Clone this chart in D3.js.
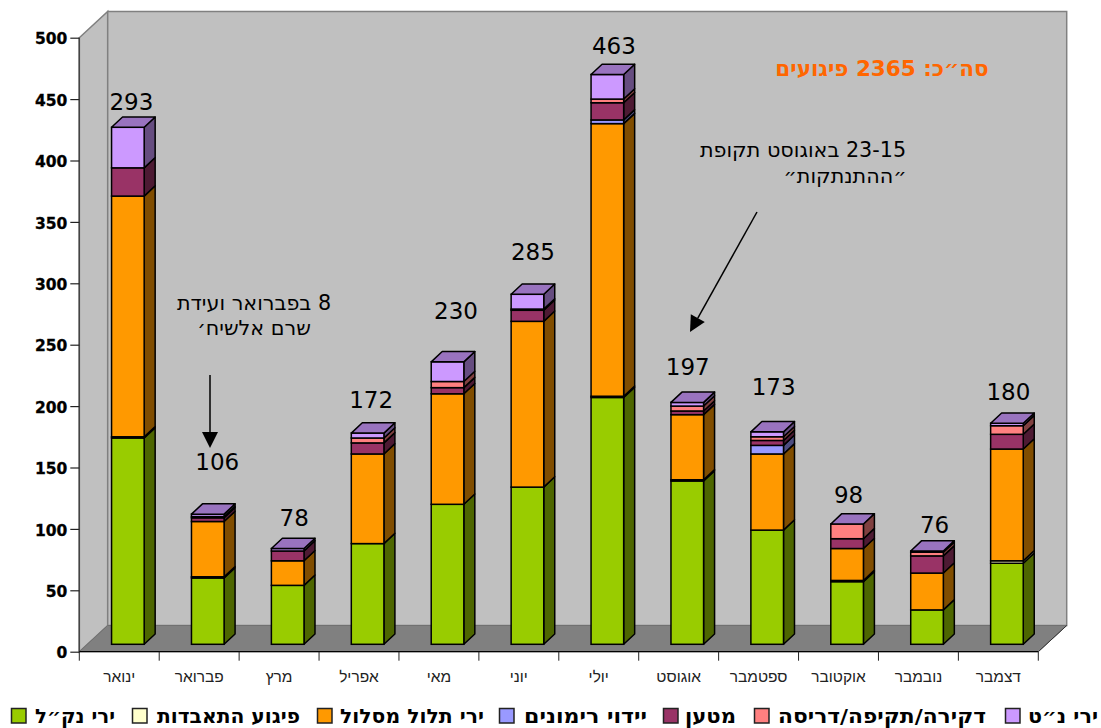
<!DOCTYPE html>
<html lang="he"><head><meta charset="utf-8">
<script src="https://cdnjs.cloudflare.com/ajax/libs/d3/7.8.5/d3.min.js"></script>
<style>
html,body{margin:0;padding:0;background:#fff;overflow:hidden}
svg{display:block}
text{font-family:"DejaVu Sans",sans-serif;fill:#000}
</style></head><body><svg id="c" width="1101" height="728"></svg>
<script>
// ---- data ----
const months = ["ינואר","פברואר","מרץ","אפריל","מאי","יוני","יולי","אוגוסט","ספטמבר","אוקטובר","נובמבר","דצמבר"];
const seriesNames = ["ירי נק״ל","פיגוע התאבדות","ירי תלול מסלול","יידוי רימונים","מטען","דקירה/תקיפה/דריסה","ירי נ״ט"];
const light   = [168,54,48,82,114,128,201,133,93,51,28,66];
const suicide = [1,1,0,0,0,0,1,1,0,1,0,2];
const mortar  = [196,45,20,73,90,135,222,53,62,26,30,91];
const grenade = [0,0,0,0,0,0,3,0,7,0,0,0];
const charge  = [23,3,8,9,5,9,14,3,4,8,14,12];
const stabbing= [0,1,0,4,5,1,3,4,3,12,3,7];
const antitank= [33,2,2,4,16,12,20,3,4,0,1,2];
const totalLabels = [293,106,78,172,230,285,463,197,173,98,76,180];
const yTicks = [0,50,100,150,200,250,300,350,400,450,500];

// ---- styles / layout ----
const seriesValues=[light,suicide,mortar,grenade,charge,stabbing,antitank];
const colors=["#99cc00","#ffffcc","#ff9900","#9999ff","#993366","#ff8080","#cc99ff"];
const sideColors=["#4d6600","#808066","#804d00","#4d4d80","#4d1a33","#804040","#664d80"];
const topColor="#9973bf";
const L=79.3,R=1038.3,B=651.7,T=37.7;
const wallDx=28.4,wallDy=-26.2;
const barDx=8.6,barDy=-7.4, sideDx=11, sideDy=-10.3;
const labelNudge=[[-10,-15],[-4,-42],[-7,-20],[-10,-23],[-5,-41],[-8,-32],[-7,-18],[-13,-25],[-7,-35],[-12,-19],[-6,-16],[-12,-21]];
const legendSwatch=[11,132,317,499,663,754,1005];
const legendText=[[35,115],[157,300],[340,484],[524,647],[685,736],[778,986],[1028,1098]];

const svg=d3.select("#c");
const y=d3.scaleLinear().domain([0,500]).range([B,T]);
const x=d3.scaleBand().domain(months).range([L,R]).paddingInner(0.592).paddingOuter(0.296);
const line=d3.line();

// walls
svg.append("path").attr("d",line([[L,T],[L+wallDx,T+wallDy],[L+wallDx,B+wallDy],[L,B]])+"Z").attr("fill","#c0c0c0").attr("stroke","#808080").attr("stroke-width",1.5);
svg.append("path").attr("d",line([[L+wallDx,T+wallDy],[R+wallDx,T+wallDy],[R+wallDx,B+wallDy],[L+wallDx,B+wallDy]])+"Z").attr("fill","#c0c0c0").attr("stroke","#808080").attr("stroke-width",1.5);
svg.append("path").attr("d",line([[L,B],[L+wallDx,B+wallDy],[R+wallDx,B+wallDy],[R,B]])+"Z").attr("fill","#808080").attr("stroke","#707070").attr("stroke-width",1);

// axes
const ay=svg.append("g").attr("transform",`translate(${L},0)`).call(d3.axisLeft(y).tickValues(yTicks).tickSize(9).tickPadding(3));
ay.select(".domain").attr("stroke","#444").attr("stroke-width",1.5).attr("d",`M0,${T}V${B}`);
ay.selectAll(".tick line").attr("stroke","#222").attr("stroke-width",1.2);
ay.selectAll("text").attr("font-size",15.5).attr("dy","0.4em").attr("font-weight","bold").attr("font-family","'DejaVu Sans',sans-serif").attr("fill","#000").attr("stroke","#000").attr("stroke-width",0.3);
const ax=svg.append("g").attr("transform",`translate(0,${B})`);
ax.append("path").attr("d",`M${L},0H${R}`).attr("stroke","#000").attr("stroke-width",1.3);
ax.append("path").attr("d",line([[R,0],[R+wallDx,wallDy]])).attr("stroke","#333").attr("stroke-width",1);
const step=x.step();
ax.selectAll("line.t").data(d3.range(13)).join("line").attr("x1",i=>L+i*step).attr("x2",i=>L+i*step).attr("y1",0).attr("y2",9).attr("stroke","#222").attr("stroke-width",1);
ax.selectAll("text.m").data(months).join("text").attr("class","m").attr("x",d=>x(d)+x.bandwidth()/2).attr("y",30).attr("text-anchor","middle").attr("font-size",15.5).attr("fill","#222").style("font-family","'Liberation Sans',sans-serif").style("fill","#222").text(d=>d);

// bars
const table=months.map((m,i)=>{const o={month:m};seriesNames.forEach((s,k)=>o[s]=seriesValues[k][i]);return o;});
const stacked=d3.stack().keys(seriesNames)(table);
months.forEach((m,i)=>{
  const g=svg.append("g");
  const x0=x(m)+barDx,x1=x0+x.bandwidth();
  let topVal=0;
  stacked.forEach((layer,k)=>{
    const [a,b]=layer[i];
    if(b-a<=0) return;
    topVal=b;
    const ya=y(a)+barDy,yb=y(b)+barDy;
    g.append("path").attr("d",line([[x1,ya],[x1+sideDx,ya+sideDy],[x1+sideDx,yb+sideDy],[x1,yb]])+"Z").attr("fill",sideColors[k]).attr("stroke","#000").attr("stroke-width",1.5).attr("stroke-linejoin","round");
    g.append("rect").attr("x",x0).attr("y",yb).attr("width",x1-x0).attr("height",ya-yb).attr("fill",colors[k]).attr("stroke","#000").attr("stroke-width",1.5);
  });
  const yt=y(topVal)+barDy;
  g.append("path").attr("d",line([[x0,yt],[x0+sideDx,yt+sideDy],[x1+sideDx,yt+sideDy],[x1,yt]])+"Z").attr("fill",topColor).attr("stroke","#000").attr("stroke-width",1.5).attr("stroke-linejoin","round");
  const n=labelNudge[i];
  svg.append("text").attr("x",(x0+x1)/2+sideDx/2+n[0]+8).attr("y",yt+sideDy+n[1]+8).attr("text-anchor","middle").attr("font-size",23).text(totalLabels[i]);
});

// annotations
const rtl=s=>s.style("direction","rtl").style("unicode-bidi","embed");
rtl(svg.append("text").attr("x",882).attr("y",76).attr("text-anchor","middle").attr("font-size",21.5).attr("font-weight","bold").style("fill","#ff6600").text("סה״כ: 2365 פיגועים"));
rtl(svg.append("text").attr("x",803).attr("y",157).attr("text-anchor","middle").attr("font-size",20.7).text("23-15 באוגוסט תקופת"));
rtl(svg.append("text").attr("x",845).attr("y",183).attr("text-anchor","middle").attr("font-size",20.7).text("״ההתנתקות״"));
rtl(svg.append("text").attr("x",254).attr("y",310).attr("text-anchor","middle").attr("font-size",20.7).text("8 בפברואר ועידת"));
rtl(svg.append("text").attr("x",254).attr("y",335).attr("text-anchor","middle").attr("font-size",20.7).text("שרם אלשיח׳"));
function arrow(x1,y1,x2,y2){
  const a=Math.atan2(y2-y1,x2-x1),l=16,w=8;
  svg.append("line").attr("x1",x1).attr("y1",y1).attr("x2",x2-l*Math.cos(a)).attr("y2",y2-l*Math.sin(a)).attr("stroke","#000").attr("stroke-width",1.5);
  const bx=x2-l*Math.cos(a),by=y2-l*Math.sin(a);
  svg.append("path").attr("d",line([[x2,y2],[bx-w*Math.sin(a),by+w*Math.cos(a)],[bx+w*Math.sin(a),by-w*Math.cos(a)]])+"Z").attr("fill","#000");
}
arrow(210,375,210,448);
arrow(757,212,690,332);

// legend
seriesNames.forEach((s,k)=>{
  svg.append("rect").attr("x",legendSwatch[k]+.5).attr("y",708.5).attr("width",14.5).attr("height",14.5).attr("fill",colors[k]).attr("stroke","#222").attr("stroke-width",1.5);
  const [a,b]=legendText[k];
  svg.append("text").attr("x",(a+b)/2).attr("y",723).attr("text-anchor","middle").attr("font-size",20).attr("font-weight","bold").attr("textLength",b-a).attr("lengthAdjust","spacingAndGlyphs").text(s);
});
</script></body></html>
